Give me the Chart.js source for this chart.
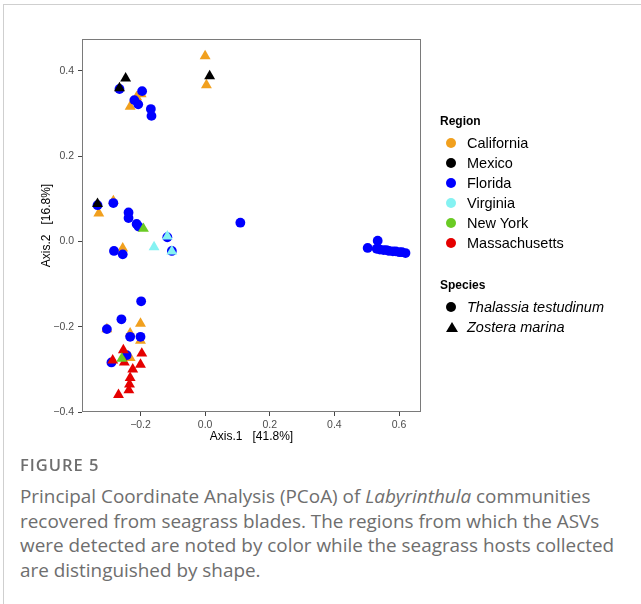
<!DOCTYPE html>
<html>
<head>
<meta charset="utf-8">
<script src="https://cdn.jsdelivr.net/npm/chart.js@4.4.0/dist/chart.umd.min.js"></script>
<style>
    body { margin: 0; width: 641px; height: 604px; background: #fff; overflow: hidden; position: relative; font-family: "Liberation Sans", Arial, sans-serif; }
    .card { position: absolute; left: 3px; top: 4px; width: 700px; height: 700px; border-top: 1px solid #cfcfcf; border-left: 1px solid #cfcfcf; }
    #pcoa { position: absolute; left: 0; top: 0; }
    .lg-title { position: absolute; left: 440px; font-size: 12px; font-weight: bold; color: #000; line-height: 14px; }
    .lg-item { position: absolute; left: 446px; font-size: 14.5px; color: #000; line-height: 16px; height: 16px; }
    .lg-item .mk { position: absolute; left: 0; top: 3px; width: 10px; height: 10px; border-radius: 50%; }
    .lg-item .tri { position: absolute; left: 0; top: 3px; width: 0; height: 0; border-left: 6px solid transparent; border-right: 6px solid transparent; border-bottom: 10px solid #000; }
    .lg-item span.t { position: absolute; left: 21px; white-space: nowrap; }
    .fig { position: absolute; left: 20px; top: 453px; font-family: "Open Sans", sans-serif; font-size: 16.5px; font-weight: 600; letter-spacing: 1px; color: #6e6e6e; }
    .cap { position: absolute; left: 20px; top: 484px; font-family: "Open Sans", sans-serif; font-size: 18.9px; line-height: 24.6px; color: #6e6e6e; white-space: nowrap; }
</style>
</head>
<body>
<div class="card"></div>
<canvas id="pcoa" width="641" height="455"></canvas>
<div id="legend"></div>
<div class="fig">FIGURE 5</div>
<div class="cap">Principal Coordinate Analysis (PCoA) of <i>Labyrinthula</i> communities<br>recovered from seagrass blades. The regions from which the ASVs<br>were detected are noted by color while the seagrass hosts collected<br>are distinguished by shape.</div>
<script>
// Regions and colours (legend order)
const regions = ['California', 'Mexico', 'Florida', 'Virginia', 'New York', 'Massachusetts'];
const regionColors = ['#F1A01E', '#000000', '#0000FF', '#85F2F2', '#6ACB24', '#E50000'];
const species = ['Thalassia testudinum', 'Zostera marina'];

// Axis ticks
const xTicks = [-0.2, 0.0, 0.2, 0.4, 0.6];
const yTicks = [-0.4, -0.2, 0.0, 0.2, 0.4];

// PCoA coordinates [Axis.1, Axis.2]
const californiaZostera = [
    [0.000, 0.434], [0.004, 0.366], [-0.198, 0.345], [-0.212, 0.338], [-0.232, 0.316],
    [-0.329, 0.066], [-0.284, 0.095], [-0.255, -0.016], [-0.200, -0.192], [-0.304, -0.205],
    [-0.232, -0.215], [-0.200, -0.232], [-0.232, -0.272]
];
const mexicoZostera = [
    [0.014, 0.387], [-0.246, 0.382], [-0.265, 0.359], [-0.333, 0.088]
];
const floridaThalassia = [
    [-0.265, 0.357], [-0.195, 0.352], [-0.219, 0.331], [-0.207, 0.321], [-0.168, 0.310], [-0.166, 0.294],
    [-0.333, 0.085], [-0.284, 0.090], [-0.237, 0.068], [-0.237, 0.055], [-0.212, 0.041], [-0.206, 0.035],
    [-0.117, 0.010], [-0.103, -0.022], [-0.282, -0.022], [-0.255, -0.030], [0.109, 0.044],
    [0.503, -0.015], [0.534, 0.002], [0.531, -0.017], [0.541, -0.019], [0.552, -0.020], [0.561, -0.020],
    [0.569, -0.022], [0.581, -0.023], [0.590, -0.023], [0.601, -0.025], [0.609, -0.025], [0.620, -0.027],
    [-0.198, -0.140], [-0.259, -0.182], [-0.304, -0.205], [-0.232, -0.223], [-0.200, -0.223],
    [-0.243, -0.266], [-0.290, -0.283]
];
const virginiaZostera = [
    [-0.117, 0.012], [-0.158, -0.013], [-0.103, -0.023]
];
const newYorkZostera = [
    [-0.191, 0.030], [-0.258, -0.274]
];
const massachusettsZostera = [
    [-0.253, -0.254], [-0.196, -0.262], [-0.286, -0.278], [-0.250, -0.283], [-0.200, -0.288],
    [-0.224, -0.299], [-0.232, -0.319], [-0.234, -0.334], [-0.236, -0.348], [-0.268, -0.359]
];

function toPoints(arr) {
    return arr.map(p => ({ x: p[0], y: p[1] }));
}

function makeSet(label, pts, color, shape, order) {
    return {
        label: label,
        data: toPoints(pts),
        backgroundColor: color,
        borderWidth: 0,
        pointStyle: shape,
        pointRadius: shape === 'triangle' ? 6.3 : 4.9,
        pointHoverRadius: shape === 'triangle' ? 6.3 : 4.9,
        order: order
    };
}

// Panel box (ggplot-style border)
const panelBorder = {
    id: 'panelBorder',
    afterDraw(chart) {
        const a = chart.chartArea;
        const ctx = chart.ctx;
        ctx.save();
        ctx.strokeStyle = '#7a7a7a';
        ctx.lineWidth = 1;
        ctx.strokeRect(Math.round(a.left) + 0.5, Math.round(a.top) + 0.5,
            Math.round(a.right - a.left) - 1, Math.round(a.bottom - a.top) - 1);
        ctx.restore();
    }
};

const fmt = v => (v < 0 ? '\u2212' : '') + Math.abs(v).toFixed(1);

new Chart(document.getElementById('pcoa'), {
    type: 'scatter',
    data: {
        datasets: [
            makeSet('California', californiaZostera, regionColors[0], 'triangle', 3),
            makeSet('Florida', floridaThalassia, regionColors[2], 'circle', 2),
            makeSet('Mexico', mexicoZostera, regionColors[1], 'triangle', 1),
            makeSet('Virginia', virginiaZostera, regionColors[3], 'triangle', 1),
            makeSet('New York', newYorkZostera, regionColors[4], 'triangle', 1),
            makeSet('Massachusetts', massachusettsZostera, regionColors[5], 'triangle', 1)
        ]
    },
    options: {
        responsive: false,
        animation: false,
        layout: { padding: { top: 39, right: 220, left: 0, bottom: 0 } },
        plugins: { legend: { display: false }, tooltip: { enabled: false } },
        scales: {
            x: {
                type: 'linear',
                min: -0.381,
                max: 0.668,
                afterFit: s => { s.height = 43; },
                afterBuildTicks: s => { s.ticks = xTicks.map(v => ({ value: v })); },
                grid: { drawOnChartArea: false, drawTicks: true, tickLength: 4, tickColor: '#444' },
                border: { display: false },
                ticks: { padding: 3, color: '#4d4d4d', font: { family: 'Liberation Sans', size: 10.5 }, callback: fmt, maxRotation: 0 },
                title: { display: true, text: 'Axis.1   [41.8%]', color: '#000', padding: 11, font: { family: 'Liberation Sans', size: 12 } }
            },
            y: {
                type: 'linear',
                min: -0.399,
                max: 0.474,
                afterFit: s => { s.width = 82; },
                afterBuildTicks: s => { s.ticks = yTicks.map(v => ({ value: v })); },
                grid: { drawOnChartArea: false, drawTicks: true, tickLength: 4, tickColor: '#444' },
                border: { display: false },
                ticks: { padding: 4, color: '#4d4d4d', font: { family: 'Liberation Sans', size: 10.5 }, callback: fmt },
                title: { display: true, text: 'Axis.2   [16.8%]', color: '#000', padding: 39, font: { family: 'Liberation Sans', size: 12 } }
            }
        }
    },
    plugins: [panelBorder]
});

// Legend (region colours + species shapes)
const legend = document.getElementById('legend');
function addTitle(text, top) {
    const d = document.createElement('div');
    d.className = 'lg-title';
    d.style.top = top + 'px';
    d.textContent = text;
    legend.appendChild(d);
}
function addItem(text, top, color, tri, italic) {
    const d = document.createElement('div');
    d.className = 'lg-item';
    d.style.top = top + 'px';
    const m = document.createElement('div');
    m.className = tri ? 'tri' : 'mk';
    if (!tri) m.style.background = color;
    d.appendChild(m);
    const t = document.createElement('span');
    t.className = 't';
    t.textContent = text;
    if (italic) t.style.fontStyle = 'italic';
    d.appendChild(t);
    legend.appendChild(d);
}
addTitle('Region', 114);
regions.forEach((r, i) => addItem(r, 135 + i * 20, regionColors[i], false, false));
addTitle('Species', 278);
addItem(species[0], 299, '#000', false, true);
addItem(species[1], 319, '#000', true, true);
</script>
</body>
</html>
